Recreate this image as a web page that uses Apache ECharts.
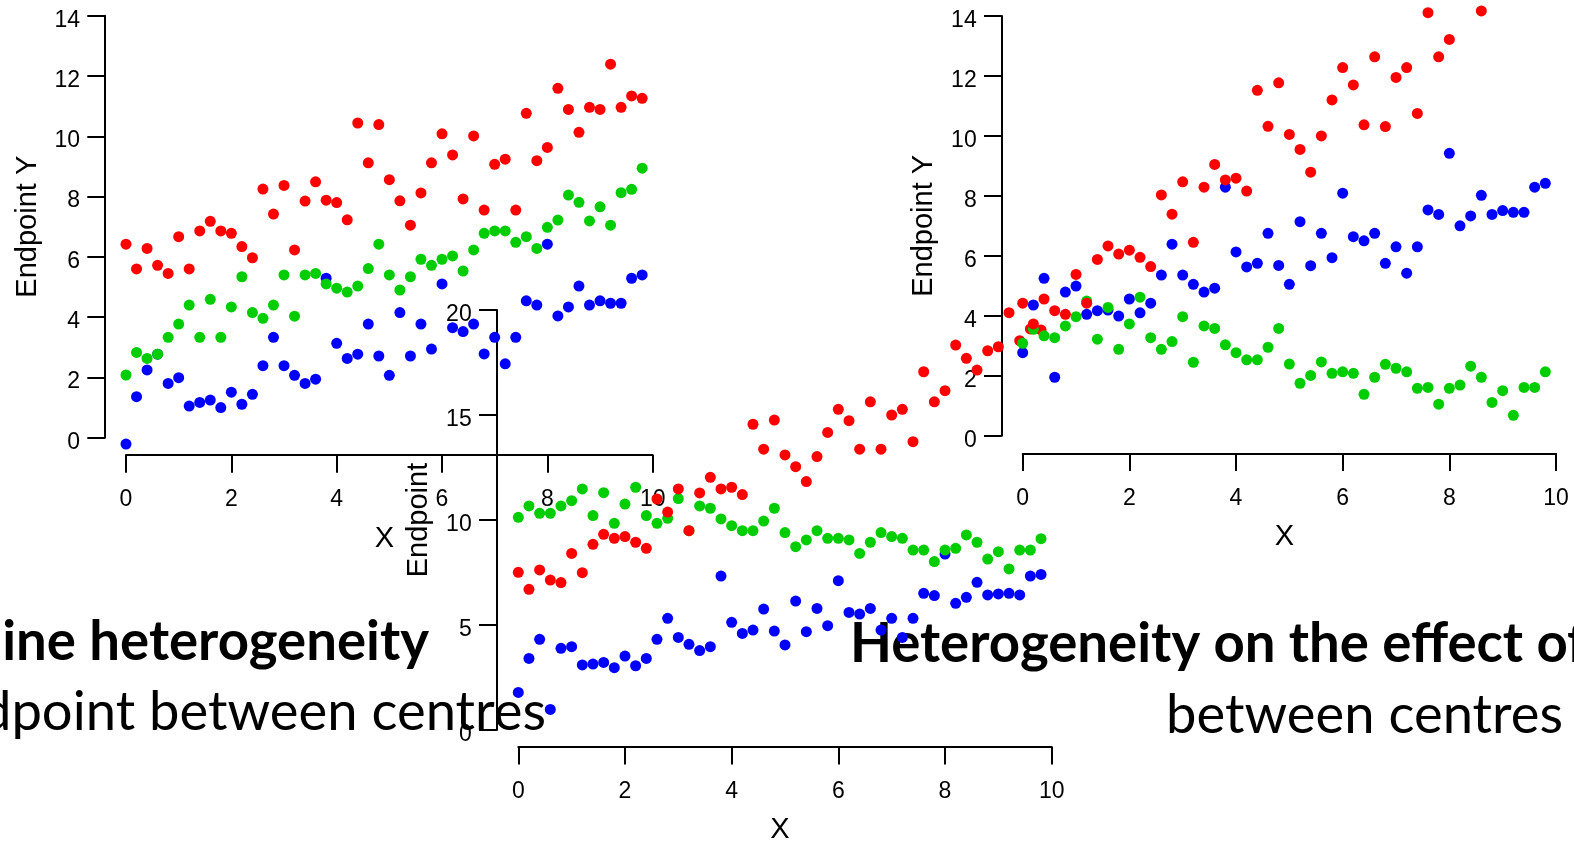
<!DOCTYPE html>
<html>
<head>
<meta charset="utf-8">
<script src="https://cdn.jsdelivr.net/npm/echarts@6.0.0/dist/echarts.min.js"></script>
<style>
html, body { margin: 0; padding: 0; background: #fff; }
#main { width: 1574px; height: 846px; }
</style>
</head>
<body>
<div id="main"></div>
<script>
// x positions shared by all three plots
var xValues = [0, 0.2, 0.4, 0.6, 0.8, 1, 1.2, 1.4, 1.6, 1.8,
               2, 2.2, 2.4, 2.6, 2.8, 3, 3.2, 3.4, 3.6, 3.8,
               4, 4.2, 4.4, 4.6, 4.8, 5, 5.2, 5.4, 5.6, 5.8,
               6, 6.2, 6.4, 6.6, 6.8, 7, 7.2, 7.4, 7.6, 7.8,
               8, 8.2, 8.4, 8.6, 8.8, 9, 9.2, 9.4, 9.6, 9.8];
var xTicks = [0, 2, 4, 6, 8, 10];

// left plot
var leftRed = [6.42, 5.60, 6.28, 5.72, 5.45, 6.67, 5.60, 6.86, 7.18, 6.86,
               6.78, 6.34, 5.97, 8.25, 7.42, 8.37, 6.23, 7.85, 8.49, 7.88,
               7.80, 7.23, 10.44, 9.12, 10.39, 8.56, 7.86, 7.05, 8.12, 9.12,
               10.08, 9.38, 7.92, 10.01, 7.55, 9.07, 9.24, 7.55, 10.76, 9.19,
               9.63, 11.59, 10.89, 10.13, 10.96, 10.89, 12.39, 10.96, 11.34, 11.26];
var leftGreen = [2.08, 2.83, 2.63, 2.77, 3.33, 3.77, 4.40, 3.33, 4.59, 3.33,
                 4.34, 5.34, 4.15, 3.96, 4.40, 5.40, 4.03, 5.40, 5.45, 5.10,
                 4.96, 4.83, 5.03, 5.61, 6.42, 5.40, 4.90, 5.34, 5.92, 5.72,
                 5.92, 6.03, 5.53, 6.23, 6.78, 6.86, 6.86, 6.48, 6.67, 6.28,
                 6.98, 7.22, 8.05, 7.81, 7.19, 7.66, 7.05, 8.13, 8.24, 8.94];
var leftBlue = [-0.21, 1.36, 2.25, 2.77, 1.80, 1.99, 1.05, 1.17, 1.25, 1.00,
                1.51, 1.11, 1.44, 2.39, 3.33, 2.39, 2.07, 1.80, 1.94, 5.29,
                3.13, 2.63, 2.77, 3.77, 2.71, 2.07, 4.15, 2.71, 3.77, 2.94,
                5.10, 3.65, 3.52, 3.77, 2.78, 3.33, 2.45, 3.33, 4.54, 4.40,
                6.42, 4.04, 4.34, 5.03, 4.40, 4.54, 4.46, 4.46, 5.29, 5.40];

// middle plot
var midRed = [7.51, 6.70, 7.62, 7.14, 7.02, 8.41, 7.49, 8.84, 9.32, 9.13,
              9.21, 8.94, 8.65, 11.00, 10.38, 11.48, 9.49, 11.29, 12.03, 11.48,
              11.56, 11.21, 14.56, 13.37, 14.76, 13.10, 12.54, 11.83, 13.02, 14.17,
              15.27, 14.73, 13.37, 15.63, 13.37, 15.00, 15.27, 13.73, 17.06, 15.63,
              16.16, 18.33, 17.70, 17.14, 18.06, 18.25, 19.87, 18.54, 19.10, 19.05];
var midGreen = [10.13, 10.67, 10.32, 10.32, 10.67, 10.92, 11.48, 10.21, 11.30, 9.84,
                10.76, 11.56, 10.21, 9.84, 10.08, 11.02, 9.49, 10.67, 10.56, 10.05,
                9.73, 9.49, 9.49, 9.95, 10.56, 9.40, 8.73, 9.05, 9.49, 9.13,
                9.13, 9.05, 8.41, 8.94, 9.40, 9.21, 9.13, 8.57, 8.57, 8.02,
                8.57, 8.65, 9.29, 8.94, 8.14, 8.49, 7.67, 8.57, 8.57, 9.11];
var midBlue = [1.79, 3.41, 4.32, 0.98, 3.89, 3.97, 3.10, 3.14, 3.22, 2.97,
               3.52, 3.06, 3.41, 4.32, 5.32, 4.41, 4.08, 3.78, 3.97, 7.33,
               5.13, 4.60, 4.76, 5.76, 4.71, 4.05, 6.14, 4.68, 5.79, 4.97,
               7.11, 5.60, 5.52, 5.79, 4.76, 5.32, 4.41, 5.32, 6.51, 6.40,
               8.38, 6.03, 6.32, 7.03, 6.43, 6.48, 6.51, 6.43, 7.33, 7.41];

// right plot (null = above the top of the picture)
var rightRed = [4.42, 3.73, 4.56, 4.17, 4.05, 5.38, 4.42, 5.88, 6.33, 6.06,
                6.19, 5.95, 5.64, 8.03, 7.39, 8.47, 6.45, 8.29, 9.05, 8.53,
                8.59, 8.16, 11.52, 10.32, 11.77, 10.05, 9.55, 8.79, 10.00, 11.20,
                12.28, 11.70, 10.37, 12.64, 10.31, 11.95, 12.28, 10.75, 14.11, 12.64,
                13.22, null, null, 14.17, null, null, null, null, null, null];
var rightGreen = [3.08, 3.55, 3.33, 3.27, 3.66, 3.97, 4.49, 3.22, 4.28, 2.88,
                  3.73, 4.62, 3.27, 2.88, 3.14, 3.97, 2.45, 3.66, 3.58, 3.03,
                  2.77, 2.53, 2.53, 2.95, 3.58, 2.39, 1.75, 2.01, 2.46, 2.08,
                  2.13, 2.08, 1.38, 1.95, 2.38, 2.25, 2.13, 1.58, 1.61, 1.05,
                  1.58, 1.69, 2.32, 1.95, 1.11, 1.50, 0.68, 1.61, 1.61, 2.13];
var rightBlue = [2.77, 4.36, 5.25, 1.95, 4.79, 4.99, 4.05, 4.17, 4.19, 3.99,
                 4.56, 4.10, 4.42, 5.36, 6.39, 5.36, 5.05, 4.79, 4.92, 8.29,
                 6.13, 5.63, 5.75, 6.75, 5.68, 5.05, 7.14, 5.67, 6.75, 5.94,
                 8.09, 6.64, 6.50, 6.75, 5.75, 6.30, 5.42, 6.30, 7.53, 7.38,
                 9.42, 7.00, 7.33, 8.02, 7.38, 7.51, 7.45, 7.45, 8.29, 8.42];

var colors = ['#0000ff', '#00cd00', '#ff0000'];   // drawn blue, green, red

var panels = [
    { grid: { left: 126, top: 15.7, width: 526.7, height: 422 }, yMax: 14, yStep: 2,
      xOff: 17.3, yOff: 21, yName: 'Endpoint Y', data: [leftBlue, leftGreen, leftRed] },
    { grid: { left: 518.3, top: 310, width: 533.4, height: 420 }, yMax: 20, yStep: 5,
      xOff: 16.7, yOff: 21.6, yName: 'Endpoint', data: [midBlue, midGreen, midRed] },
    { grid: { left: 1022.7, top: 16, width: 533.3, height: 419.7 }, yMax: 14, yStep: 2,
      xOff: 17.6, yOff: 21, yName: 'Endpoint Y', data: [rightBlue, rightGreen, rightRed] }
];

var axisFont = 'Liberation Sans';
var black = '#000';
var line = { color: black, width: 2 };

var grids = [], xAxes = [], yAxes = [], series = [];
panels.forEach(function (p, i) {
    grids.push({ left: p.grid.left, top: p.grid.top, width: p.grid.width, height: p.grid.height,
                 containLabel: false, outerBoundsMode: 'none' });
    xAxes.push({
        gridIndex: i, type: 'value', min: xTicks[0], max: xTicks[xTicks.length - 1], interval: 2,
        position: 'bottom', offset: p.xOff, z: 1,
        axisLine: { show: true, onZero: false, lineStyle: line },
        axisTick: { show: true, inside: false, length: 17.7, lineStyle: line },
        axisLabel: { margin: 33.5, fontSize: 23, color: black, fontFamily: axisFont },
        splitLine: { show: false },
        name: 'X', nameLocation: 'middle', nameGap: 69, nameMoveOverlap: false,
        nameTextStyle: { fontSize: 29, color: black, fontFamily: axisFont, padding: [0, 10, 0, 0] }
    });
    yAxes.push({
        gridIndex: i, type: 'value', min: 0, max: p.yMax, interval: p.yStep,
        position: 'left', offset: p.yOff, z: 1,
        axisLine: { show: true, onZero: false, lineStyle: line },
        axisTick: { show: true, inside: false, length: 17.7, lineStyle: line },
        // labels sit a little below their ticks, as in the picture
        axisLabel: { margin: 25, fontSize: 23, color: black, fontFamily: axisFont,
                     verticalAlign: 'top', lineHeight: 9 },
        splitLine: { show: false },
        name: p.yName, nameLocation: 'middle', nameRotate: 90, nameGap: 63, nameMoveOverlap: false,
        nameTextStyle: { fontSize: 29, color: black, fontFamily: axisFont }
    });
    p.data.forEach(function (vals, k) {
        var pts = [];
        for (var j = 0; j < xValues.length; j++) {
            if (vals[j] !== null) pts.push([xValues[j], vals[j]]);
        }
        series.push({
            type: 'scatter', xAxisIndex: i, yAxisIndex: i, data: pts,
            symbol: 'circle', symbolSize: 11, clip: false, silent: true,
            itemStyle: { color: colors[k], opacity: 1 }
        });
    });
});

// slide text: sizes fitted to the widths measured on the picture
var ctx = document.createElement('canvas').getContext('2d');
var titleFont = 'Lato';
function fitSize(text, weight, width) {
    ctx.font = weight + ' 100px ' + titleFont;
    return 100 * width / ctx.measureText(text).width;
}
function middleY(weight, size, baseline) {
    ctx.font = weight + ' ' + size + 'px ' + titleFont;
    ctx.textBaseline = 'alphabetic';
    var a1 = ctx.measureText('H').actualBoundingBoxAscent;
    ctx.textBaseline = 'middle';
    var a2 = ctx.measureText('H').actualBoundingBoxAscent;
    ctx.textBaseline = 'alphabetic';
    return baseline - (a1 - a2);
}
var boldSize = fitSize('Heterogeneity on the effect o', 'bold', 718);
var regSize = fitSize('between centres', 'normal', 397);

function slideText(text, weight, size, x, baseline, align) {
    return {
        type: 'text', x: x, y: middleY(weight, size, baseline), z: 0, silent: true,
        style: { text: text, fill: black, fontFamily: titleFont, fontWeight: weight,
                 fontSize: size, align: align, verticalAlign: 'middle' }
    };
}

var chart = echarts.init(document.getElementById('main'));
chart.setOption({
    animation: false,
    backgroundColor: '#fff',
    grid: grids,
    xAxis: xAxes,
    yAxis: yAxes,
    series: series,
    graphic: [
        slideText('ine heterogeneity', 'bold', boldSize, 429, 660, 'right'),
        slideText('dpoint between centres', 'normal', regSize, 546, 730, 'right'),
        slideText('Heterogeneity on the effect of', 'bold', boldSize, 850, 661.7, 'left'),
        slideText('between centres', 'normal', regSize, 1563, 733, 'right')
    ]
});
</script>
</body>
</html>
